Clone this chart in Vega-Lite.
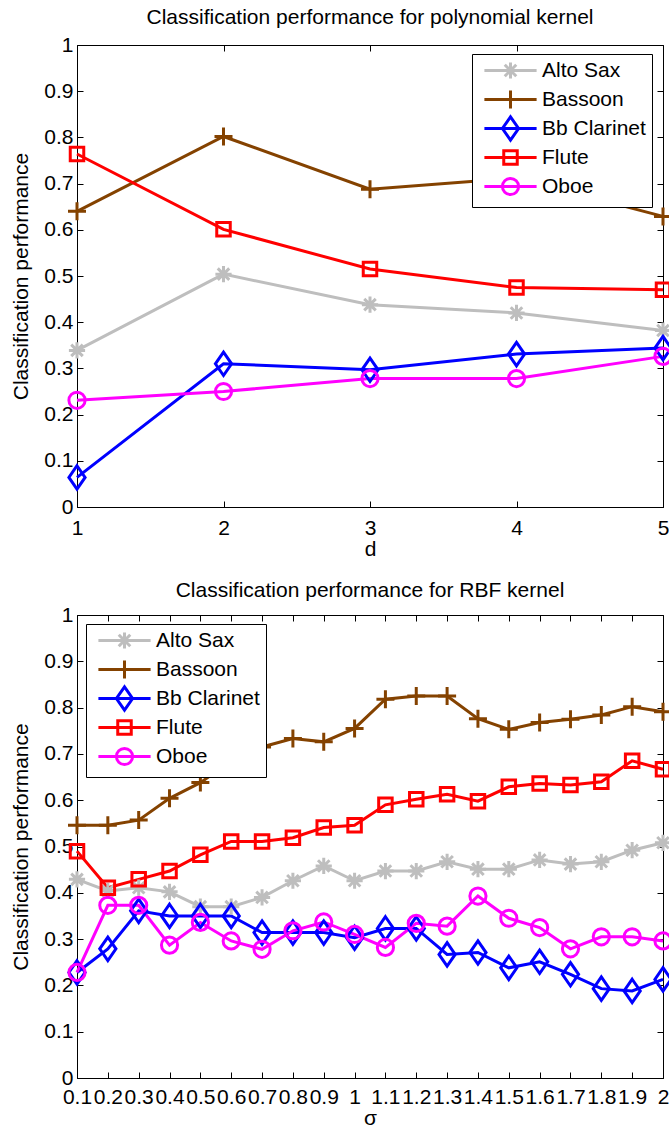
{
  "$schema": "https://vega.github.io/schema/vega-lite/v6.json",
  "padding": {"left": 10, "top": 6, "right": 0, "bottom": 0},
  "spacing": 19,
  "config": {
    "font": "Liberation Sans",
    "view": {"stroke": "black", "strokeWidth": 1},
    "axis": {
      "labelFont": "Liberation Sans",
      "labelFontSize": 21,
      "labelColor": "black",
      "titleFont": "Liberation Sans",
      "titleFontSize": 21,
      "titleFontWeight": "normal",
      "titleColor": "black",
      "domainColor": "black",
      "domainWidth": 1,
      "tickColor": "black",
      "tickSize": -6,
      "gridColor": "black",
      "gridDash": [1, 3],
      "gridOpacity": 0.75,
      "gridWidth": 1,
      "labelOverlap": false,
      "labelFlush": false,
      "labelBound": false
    },
    "title": {"font": "Liberation Sans", "fontSize": 21, "fontWeight": "normal", "color": "black", "offset": 6},
    "legend": {
      "labelFont": "Liberation Sans",
      "labelFontSize": 21,
      "labelColor": "black",
      "strokeColor": "black",
      "fillColor": "white",
      "strokeWidth": 1,
      "cornerRadius": 0,
      "padding": 6,
      "gridAlign": "all",
      "rowPadding": -11,
      "symbolSize": 324,
      "symbolStrokeWidth": 3,
      "symbolOffset": 22,
      "labelOffset": 21
    }
  },
  "datasets": {
    "poly": [
      {"d": 1, "instrument": "Alto Sax", "perf": 0.339},
      {"d": 2, "instrument": "Alto Sax", "perf": 0.504},
      {"d": 3, "instrument": "Alto Sax", "perf": 0.438},
      {"d": 4, "instrument": "Alto Sax", "perf": 0.420},
      {"d": 5, "instrument": "Alto Sax", "perf": 0.382},
      {"d": 1, "instrument": "Bassoon", "perf": 0.640},
      {"d": 2, "instrument": "Bassoon", "perf": 0.802},
      {"d": 3, "instrument": "Bassoon", "perf": 0.688},
      {"d": 4, "instrument": "Bassoon", "perf": 0.712},
      {"d": 5, "instrument": "Bassoon", "perf": 0.629},
      {"d": 1, "instrument": "Bb Clarinet", "perf": 0.064},
      {"d": 2, "instrument": "Bb Clarinet", "perf": 0.310},
      {"d": 3, "instrument": "Bb Clarinet", "perf": 0.297},
      {"d": 4, "instrument": "Bb Clarinet", "perf": 0.331},
      {"d": 5, "instrument": "Bb Clarinet", "perf": 0.344},
      {"d": 1, "instrument": "Flute", "perf": 0.764},
      {"d": 2, "instrument": "Flute", "perf": 0.601},
      {"d": 3, "instrument": "Flute", "perf": 0.515},
      {"d": 4, "instrument": "Flute", "perf": 0.475},
      {"d": 5, "instrument": "Flute", "perf": 0.470},
      {"d": 1, "instrument": "Oboe", "perf": 0.231},
      {"d": 2, "instrument": "Oboe", "perf": 0.250},
      {"d": 3, "instrument": "Oboe", "perf": 0.278},
      {"d": 4, "instrument": "Oboe", "perf": 0.278},
      {"d": 5, "instrument": "Oboe", "perf": 0.326}
    ],
    "rbf": [
      {"sigma": 0.1, "instrument": "Alto Sax", "perf": 0.429},
      {"sigma": 0.2, "instrument": "Alto Sax", "perf": 0.404},
      {"sigma": 0.3, "instrument": "Alto Sax", "perf": 0.411},
      {"sigma": 0.4, "instrument": "Alto Sax", "perf": 0.402},
      {"sigma": 0.5, "instrument": "Alto Sax", "perf": 0.370},
      {"sigma": 0.6, "instrument": "Alto Sax", "perf": 0.370},
      {"sigma": 0.7, "instrument": "Alto Sax", "perf": 0.390},
      {"sigma": 0.8, "instrument": "Alto Sax", "perf": 0.426},
      {"sigma": 0.9, "instrument": "Alto Sax", "perf": 0.458},
      {"sigma": 1.0, "instrument": "Alto Sax", "perf": 0.426},
      {"sigma": 1.1, "instrument": "Alto Sax", "perf": 0.447},
      {"sigma": 1.2, "instrument": "Alto Sax", "perf": 0.447},
      {"sigma": 1.3, "instrument": "Alto Sax", "perf": 0.467},
      {"sigma": 1.4, "instrument": "Alto Sax", "perf": 0.451},
      {"sigma": 1.5, "instrument": "Alto Sax", "perf": 0.451},
      {"sigma": 1.6, "instrument": "Alto Sax", "perf": 0.471},
      {"sigma": 1.7, "instrument": "Alto Sax", "perf": 0.462},
      {"sigma": 1.8, "instrument": "Alto Sax", "perf": 0.467},
      {"sigma": 1.9, "instrument": "Alto Sax", "perf": 0.492},
      {"sigma": 2.0, "instrument": "Alto Sax", "perf": 0.508},
      {"sigma": 0.1, "instrument": "Bassoon", "perf": 0.546},
      {"sigma": 0.2, "instrument": "Bassoon", "perf": 0.546},
      {"sigma": 0.3, "instrument": "Bassoon", "perf": 0.557},
      {"sigma": 0.4, "instrument": "Bassoon", "perf": 0.604},
      {"sigma": 0.5, "instrument": "Bassoon", "perf": 0.638},
      {"sigma": 0.6, "instrument": "Bassoon", "perf": 0.685},
      {"sigma": 0.7, "instrument": "Bassoon", "perf": 0.715},
      {"sigma": 0.8, "instrument": "Bassoon", "perf": 0.733},
      {"sigma": 0.9, "instrument": "Bassoon", "perf": 0.726},
      {"sigma": 1.0, "instrument": "Bassoon", "perf": 0.755},
      {"sigma": 1.1, "instrument": "Bassoon", "perf": 0.818},
      {"sigma": 1.2, "instrument": "Bassoon", "perf": 0.825},
      {"sigma": 1.3, "instrument": "Bassoon", "perf": 0.825},
      {"sigma": 1.4, "instrument": "Bassoon", "perf": 0.776},
      {"sigma": 1.5, "instrument": "Bassoon", "perf": 0.753},
      {"sigma": 1.6, "instrument": "Bassoon", "perf": 0.768},
      {"sigma": 1.7, "instrument": "Bassoon", "perf": 0.775},
      {"sigma": 1.8, "instrument": "Bassoon", "perf": 0.784},
      {"sigma": 1.9, "instrument": "Bassoon", "perf": 0.802},
      {"sigma": 2.0, "instrument": "Bassoon", "perf": 0.791},
      {"sigma": 0.1, "instrument": "Bb Clarinet", "perf": 0.228},
      {"sigma": 0.2, "instrument": "Bb Clarinet", "perf": 0.279},
      {"sigma": 0.3, "instrument": "Bb Clarinet", "perf": 0.361},
      {"sigma": 0.4, "instrument": "Bb Clarinet", "perf": 0.350},
      {"sigma": 0.5, "instrument": "Bb Clarinet", "perf": 0.350},
      {"sigma": 0.6, "instrument": "Bb Clarinet", "perf": 0.350},
      {"sigma": 0.7, "instrument": "Bb Clarinet", "perf": 0.314},
      {"sigma": 0.8, "instrument": "Bb Clarinet", "perf": 0.314},
      {"sigma": 0.9, "instrument": "Bb Clarinet", "perf": 0.314},
      {"sigma": 1.0, "instrument": "Bb Clarinet", "perf": 0.303},
      {"sigma": 1.1, "instrument": "Bb Clarinet", "perf": 0.323},
      {"sigma": 1.2, "instrument": "Bb Clarinet", "perf": 0.323},
      {"sigma": 1.3, "instrument": "Bb Clarinet", "perf": 0.267},
      {"sigma": 1.4, "instrument": "Bb Clarinet", "perf": 0.271},
      {"sigma": 1.5, "instrument": "Bb Clarinet", "perf": 0.238},
      {"sigma": 1.6, "instrument": "Bb Clarinet", "perf": 0.251},
      {"sigma": 1.7, "instrument": "Bb Clarinet", "perf": 0.224},
      {"sigma": 1.8, "instrument": "Bb Clarinet", "perf": 0.193},
      {"sigma": 1.9, "instrument": "Bb Clarinet", "perf": 0.188},
      {"sigma": 2.0, "instrument": "Bb Clarinet", "perf": 0.213},
      {"sigma": 0.1, "instrument": "Flute", "perf": 0.490},
      {"sigma": 0.2, "instrument": "Flute", "perf": 0.411},
      {"sigma": 0.3, "instrument": "Flute", "perf": 0.429},
      {"sigma": 0.4, "instrument": "Flute", "perf": 0.447},
      {"sigma": 0.5, "instrument": "Flute", "perf": 0.482},
      {"sigma": 0.6, "instrument": "Flute", "perf": 0.511},
      {"sigma": 0.7, "instrument": "Flute", "perf": 0.511},
      {"sigma": 0.8, "instrument": "Flute", "perf": 0.519},
      {"sigma": 0.9, "instrument": "Flute", "perf": 0.541},
      {"sigma": 1.0, "instrument": "Flute", "perf": 0.546},
      {"sigma": 1.1, "instrument": "Flute", "perf": 0.590},
      {"sigma": 1.2, "instrument": "Flute", "perf": 0.602},
      {"sigma": 1.3, "instrument": "Flute", "perf": 0.613},
      {"sigma": 1.4, "instrument": "Flute", "perf": 0.598},
      {"sigma": 1.5, "instrument": "Flute", "perf": 0.629},
      {"sigma": 1.6, "instrument": "Flute", "perf": 0.636},
      {"sigma": 1.7, "instrument": "Flute", "perf": 0.633},
      {"sigma": 1.8, "instrument": "Flute", "perf": 0.640},
      {"sigma": 1.9, "instrument": "Flute", "perf": 0.685},
      {"sigma": 2.0, "instrument": "Flute", "perf": 0.667},
      {"sigma": 0.1, "instrument": "Oboe", "perf": 0.228},
      {"sigma": 0.2, "instrument": "Oboe", "perf": 0.373},
      {"sigma": 0.3, "instrument": "Oboe", "perf": 0.373},
      {"sigma": 0.4, "instrument": "Oboe", "perf": 0.287},
      {"sigma": 0.5, "instrument": "Oboe", "perf": 0.336},
      {"sigma": 0.6, "instrument": "Oboe", "perf": 0.296},
      {"sigma": 0.7, "instrument": "Oboe", "perf": 0.278},
      {"sigma": 0.8, "instrument": "Oboe", "perf": 0.318},
      {"sigma": 0.9, "instrument": "Oboe", "perf": 0.337},
      {"sigma": 1.0, "instrument": "Oboe", "perf": 0.310},
      {"sigma": 1.1, "instrument": "Oboe", "perf": 0.282},
      {"sigma": 1.2, "instrument": "Oboe", "perf": 0.334},
      {"sigma": 1.3, "instrument": "Oboe", "perf": 0.328},
      {"sigma": 1.4, "instrument": "Oboe", "perf": 0.393},
      {"sigma": 1.5, "instrument": "Oboe", "perf": 0.345},
      {"sigma": 1.6, "instrument": "Oboe", "perf": 0.325},
      {"sigma": 1.7, "instrument": "Oboe", "perf": 0.279},
      {"sigma": 1.8, "instrument": "Oboe", "perf": 0.305},
      {"sigma": 1.9, "instrument": "Oboe", "perf": 0.305},
      {"sigma": 2.0, "instrument": "Oboe", "perf": 0.296}
    ]
  },
  "vconcat": [
    {
      "title": "Classification performance for polynomial kernel",
      "width": 586,
      "height": 462,
      "data": {"name": "poly"},
      "resolve": {"axis": {"x": "independent", "y": "independent"}},
      "layer": [
        {
          "mark": {"type": "line", "strokeWidth": 3},
          "encoding": {
            "x": {"field": "d", "type": "quantitative", "scale": {"domain": [1, 5], "nice": false},
                  "axis": {"orient": "top", "values": [1, 2, 3, 4, 5], "labels": false, "domain": false, "grid": false, "title": null}},
            "y": {"field": "perf", "type": "quantitative", "scale": {"domain": [0, 1], "nice": false},
                  "axis": {"orient": "right", "values": [0, 0.1, 0.2, 0.3, 0.4, 0.5, 0.6, 0.7, 0.8, 0.9, 1], "labels": false, "domain": false, "grid": false, "title": null}},
            "color": {"field": "instrument", "type": "nominal",
                      "scale": {"domain": ["Alto Sax", "Bassoon", "Bb Clarinet", "Flute", "Oboe"], "range": ["#BEBEBE", "#844200", "#0000FF", "#FF0000", "#FF00FF"]},
                      "legend": {"title": null, "orient": "none", "legendX": 395, "legendY": 9,
                                 "encode": {"symbols": {"update": {"shape": {"signal": "datum.value === 'Alto Sax' ? 'M-2.9,0H2.9M-0.9,0H0.9M0,-0.9V0.9M-0.64,-0.64L0.64,0.64M-0.64,0.64L0.64,-0.64' : datum.value === 'Bassoon' ? 'M-2.9,0H2.9M0,-1V1' : datum.value === 'Bb Clarinet' ? 'M-2.9,0H2.9M0,-1.3L0.9,0L0,1.3L-0.9,0Z' : datum.value === 'Flute' ? 'M-2.9,0H2.9M-0.75,-0.75H0.75V0.75H-0.75Z' : 'M-2.9,0H2.9M0.9,0A0.9,0.9,0,1,1,-0.9,0A0.9,0.9,0,1,1,0.9,0Z'"}}}}}}
          }
        },
        {
          "mark": {"type": "point", "filled": false, "strokeWidth": 3, "size": 324, "opacity": 1},
          "encoding": {
            "x": {"field": "d", "type": "quantitative", "title": "d",
                  "axis": {"values": [1, 2, 3, 4, 5], "labelPadding": 16, "titlePadding": 0}},
            "y": {"field": "perf", "type": "quantitative", "title": "Classification performance",
                  "axis": {"values": [0, 0.1, 0.2, 0.3, 0.4, 0.5, 0.6, 0.7, 0.8, 0.9, 1], "format": ".1~f", "labelPadding": 10, "titlePadding": 12}},
            "color": {"field": "instrument", "type": "nominal",
                      "legend": {"title": null, "orient": "none", "legendX": 395, "legendY": 9,
                                 "encode": {"symbols": {"update": {"shape": {"signal": "datum.value === 'Alto Sax' ? 'M-2.9,0H2.9M-0.9,0H0.9M0,-0.9V0.9M-0.64,-0.64L0.64,0.64M-0.64,0.64L0.64,-0.64' : datum.value === 'Bassoon' ? 'M-2.9,0H2.9M0,-1V1' : datum.value === 'Bb Clarinet' ? 'M-2.9,0H2.9M0,-1.3L0.9,0L0,1.3L-0.9,0Z' : datum.value === 'Flute' ? 'M-2.9,0H2.9M-0.75,-0.75H0.75V0.75H-0.75Z' : 'M-2.9,0H2.9M0.9,0A0.9,0.9,0,1,1,-0.9,0A0.9,0.9,0,1,1,0.9,0Z'"}}}}}},
            "shape": {"field": "instrument", "type": "nominal", "legend": null,
                      "scale": {"domain": ["Alto Sax", "Bassoon", "Bb Clarinet", "Flute", "Oboe"],
                                "range": ["M-0.9,0H0.9M0,-0.9V0.9M-0.64,-0.64L0.64,0.64M-0.64,0.64L0.64,-0.64", "M-1,0H1M0,-1V1", "M0,-1.3L0.9,0L0,1.3L-0.9,0Z", "M-0.75,-0.75H0.75V0.75H-0.75Z", "M0.9,0A0.9,0.9,0,1,1,-0.9,0A0.9,0.9,0,1,1,0.9,0Z"]}}
          }
        }
      ]
    },
    {
      "title": {"text": "Classification performance for RBF kernel", "offset": 3},
      "width": 586,
      "height": 463,
      "data": {"name": "rbf"},
      "resolve": {"axis": {"x": "independent", "y": "independent"}},
      "layer": [
        {
          "mark": {"type": "line", "strokeWidth": 3},
          "encoding": {
            "x": {"field": "sigma", "type": "quantitative", "scale": {"domain": [0.1, 2], "nice": false, "zero": false},
                  "axis": {"orient": "top", "values": [0.1, 0.2, 0.3, 0.4, 0.5, 0.6, 0.7, 0.8, 0.9, 1, 1.1, 1.2, 1.3, 1.4, 1.5, 1.6, 1.7, 1.8, 1.9, 2], "labels": false, "domain": false, "grid": false, "title": null}},
            "y": {"field": "perf", "type": "quantitative", "scale": {"domain": [0, 1], "nice": false},
                  "axis": {"orient": "right", "values": [0, 0.1, 0.2, 0.3, 0.4, 0.5, 0.6, 0.7, 0.8, 0.9, 1], "labels": false, "domain": false, "grid": false, "title": null}},
            "color": {"field": "instrument", "type": "nominal",
                      "scale": {"domain": ["Alto Sax", "Bassoon", "Bb Clarinet", "Flute", "Oboe"], "range": ["#BEBEBE", "#844200", "#0000FF", "#FF0000", "#FF00FF"]},
                      "legend": {"title": null, "orient": "top-left", "offset": 9,
                                 "encode": {"symbols": {"update": {"shape": {"signal": "datum.value === 'Alto Sax' ? 'M-2.9,0H2.9M-0.9,0H0.9M0,-0.9V0.9M-0.64,-0.64L0.64,0.64M-0.64,0.64L0.64,-0.64' : datum.value === 'Bassoon' ? 'M-2.9,0H2.9M0,-1V1' : datum.value === 'Bb Clarinet' ? 'M-2.9,0H2.9M0,-1.3L0.9,0L0,1.3L-0.9,0Z' : datum.value === 'Flute' ? 'M-2.9,0H2.9M-0.75,-0.75H0.75V0.75H-0.75Z' : 'M-2.9,0H2.9M0.9,0A0.9,0.9,0,1,1,-0.9,0A0.9,0.9,0,1,1,0.9,0Z'"}}}}}}
          }
        },
        {
          "mark": {"type": "point", "filled": false, "strokeWidth": 3, "size": 324, "opacity": 1},
          "encoding": {
            "x": {"field": "sigma", "type": "quantitative", "title": "σ",
                  "axis": {"values": [0.1, 0.2, 0.3, 0.4, 0.5, 0.6, 0.7, 0.8, 0.9, 1, 1.1, 1.2, 1.3, 1.4, 1.5, 1.6, 1.7, 1.8, 1.9, 2], "format": ".1~f", "labelPadding": 14, "titlePadding": 0}},
            "y": {"field": "perf", "type": "quantitative", "title": "Classification performance",
                  "axis": {"values": [0, 0.1, 0.2, 0.3, 0.4, 0.5, 0.6, 0.7, 0.8, 0.9, 1], "format": ".1~f", "labelPadding": 10, "titlePadding": 12}},
            "color": {"field": "instrument", "type": "nominal",
                      "legend": {"title": null, "orient": "top-left", "offset": 9,
                                 "encode": {"symbols": {"update": {"shape": {"signal": "datum.value === 'Alto Sax' ? 'M-2.9,0H2.9M-0.9,0H0.9M0,-0.9V0.9M-0.64,-0.64L0.64,0.64M-0.64,0.64L0.64,-0.64' : datum.value === 'Bassoon' ? 'M-2.9,0H2.9M0,-1V1' : datum.value === 'Bb Clarinet' ? 'M-2.9,0H2.9M0,-1.3L0.9,0L0,1.3L-0.9,0Z' : datum.value === 'Flute' ? 'M-2.9,0H2.9M-0.75,-0.75H0.75V0.75H-0.75Z' : 'M-2.9,0H2.9M0.9,0A0.9,0.9,0,1,1,-0.9,0A0.9,0.9,0,1,1,0.9,0Z'"}}}}}},
            "shape": {"field": "instrument", "type": "nominal", "legend": null,
                      "scale": {"domain": ["Alto Sax", "Bassoon", "Bb Clarinet", "Flute", "Oboe"],
                                "range": ["M-0.9,0H0.9M0,-0.9V0.9M-0.64,-0.64L0.64,0.64M-0.64,0.64L0.64,-0.64", "M-1,0H1M0,-1V1", "M0,-1.3L0.9,0L0,1.3L-0.9,0Z", "M-0.75,-0.75H0.75V0.75H-0.75Z", "M0.9,0A0.9,0.9,0,1,1,-0.9,0A0.9,0.9,0,1,1,0.9,0Z"]}}
          }
        }
      ]
    }
  ]
}
